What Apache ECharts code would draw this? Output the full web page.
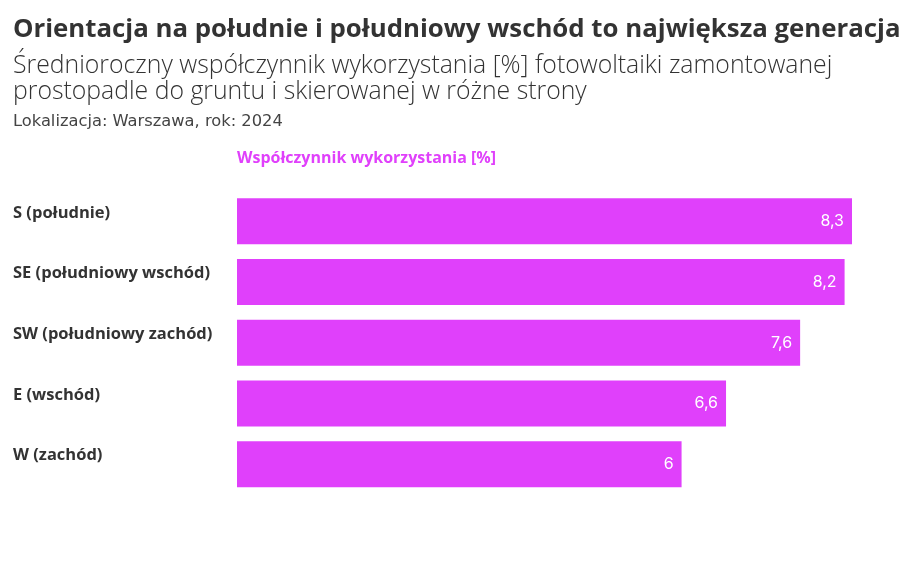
<!DOCTYPE html>
<html>
<head>
<meta charset="utf-8">
<script src="https://cdn.jsdelivr.net/npm/echarts@6/dist/echarts.min.js"></script>
<style>
  html, body { margin: 0; padding: 0; background: #fff; }
  #chart { width: 920px; height: 564px; }
</style>
</head>
<body>
<div id="chart"></div>
<script>
const kierunki = ["S (południe)", "SE (południowy wschód)", "SW (południowy zachód)", "E (wschód)", "W (zachód)"];
const wspolczynnik = [8.3, 8.2, 7.6, 6.6, 6];

const tytul = "Orientacja na południe i południowy wschód to największa generacja";
const podtytul = "Średnioroczny współczynnik wykorzystania [%] fotowoltaiki zamontowanej\nprostopadle do gruntu i skierowanej w różne strony";
const opis = "Lokalizacja: Warszawa, rok: 2024";
const naglowek = "Współczynnik wykorzystania [%]";

const kolor = "#e040fb";

let myChart = echarts.init(document.getElementById("chart"));

let option = {
  animation: false,
  title: [
    {
      text: tytul,
      left: 13,
      top: 17,
      padding: 0,
      textStyle: { fontFamily: "Open Sans", fontWeight: "bold", fontSize: 25.8, color: "#333" },
    },
    {
      text: podtytul,
      left: 13,
      top: 53,
      padding: 0,
      textStyle: { fontFamily: "Open Sans", fontWeight: 300, fontSize: 24.8, lineHeight: 26, color: "#333" },
    },
    {
      text: opis,
      left: 13,
      top: 114,
      padding: 0,
      textStyle: { fontFamily: "DejaVu Sans", fontWeight: "normal", fontSize: 16.3, color: "#444" },
    },
    {
      text: naglowek,
      left: 237,
      top: 150,
      padding: 0,
      textStyle: { fontFamily: "Open Sans", fontWeight: "bold", fontSize: 16, color: kolor },
    },
  ],
  grid: {
    left: 237,
    right: 68,
    top: 191,
    height: 303.5,
    containLabel: false,
  },
  xAxis: {
    type: "value",
    min: 0,
    max: 8.3,
    show: false,
  },
  yAxis: {
    type: "category",
    inverse: true,
    data: kierunki,
    axisLine: { show: false },
    axisTick: { show: false },
    axisLabel: {
      align: "left",
      verticalAlign: "bottom",
      margin: 224,
      fontFamily: "Open Sans",
      fontWeight: "bold",
      fontSize: 16.5,
      color: "#333",
    },
  },
  series: [
    {
      type: "bar",
      data: wspolczynnik,
      barWidth: 46,
      itemStyle: { color: kolor },
      label: {
        show: true,
        position: "insideRight",
        distance: 8,
        color: "#fff",
        fontFamily: "Inter",
        fontSize: 16,
        formatter: (p) => String(p.value).replace(".", ","),
      },
    },
  ],
};
option && myChart.setOption(option);
</script>
</body>
</html>
